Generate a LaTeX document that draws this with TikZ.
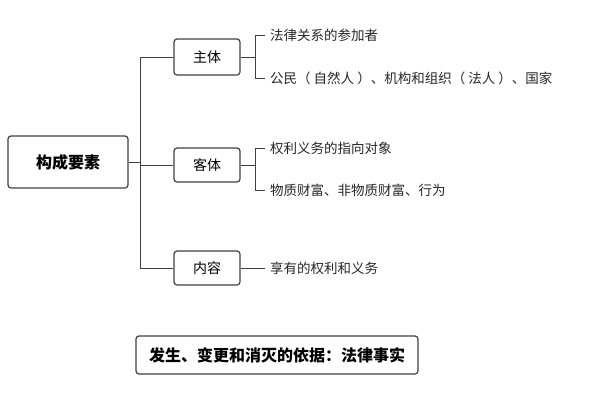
\documentclass[tikz,border=0pt]{standalone}
\usepackage{fontspec}
\setmainfont{Noto Sans CJK SC}
\begin{document}
\begin{tikzpicture}[x=1pt,y=-1pt,
  box/.style={draw=black!75,line width=1.2pt,rounded corners=3pt,minimum height=34pt,font=\fontsize{14}{16}\selectfont},
  ln/.style={draw=black!75,line width=0.9pt},
  txt/.style={anchor=west,font=\fontsize{13.5}{16}\selectfont,text=black!85,inner sep=0pt}]
\useasboundingbox (0,0) rectangle (600,400);
\node[box,minimum width=120pt,minimum height=52pt,font=\fontsize{16}{18}\selectfont\bfseries] (root) at (68,162) {构成要素};
\node[box,minimum width=66pt,minimum height=36pt] (zt) at (207,57) {主体};
\node[box,minimum width=66pt] (kt) at (207,165) {客体};
\node[box,minimum width=66pt] (nr) at (207,268) {内容};
\node[box,minimum width=282pt,minimum height=38pt,font=\fontsize{16}{18}\selectfont\bfseries] (bt) at (277,355) {发生、变更和消灭的依据：法律事实};
\coordinate (j) at (140,162);
\draw[ln] (root.east) -- (j);
\draw[ln] (140,57) -- (140,268);
\draw[ln] (140,57) -- (zt.west);
\draw[ln] (140,165) -- (kt.west);
\draw[ln] (140,268) -- (nr.west);
\node[txt] (t1) at (270,35) {法律关系的参加者};
\node[txt] (t2) at (270,78) {公民（ 自然人 ）、机构和组织（ 法人 ）、国家};
\node[txt] (t3) at (270,148) {权利义务的指向对象};
\node[txt] (t4) at (270,190) {物质财富、非物质财富、行为};
\node[txt] (t5) at (270,268) {享有的权利和义务};
\draw[ln] (zt.east) -- (255,57);
\draw[ln] (255,35) -- (255,78);
\draw[ln] (255,35) -- ([xshift=-5pt]t1.west);
\draw[ln] (255,78) -- ([xshift=-5pt]t2.west);
\draw[ln] (kt.east) -- (255,165);
\draw[ln] (255,148) -- (255,190);
\draw[ln] (255,148) -- ([xshift=-5pt]t3.west);
\draw[ln] (255,190) -- ([xshift=-5pt]t4.west);
\draw[ln] (nr.east) -- ([xshift=-5pt]t5.west);
\end{tikzpicture}
\end{document}
